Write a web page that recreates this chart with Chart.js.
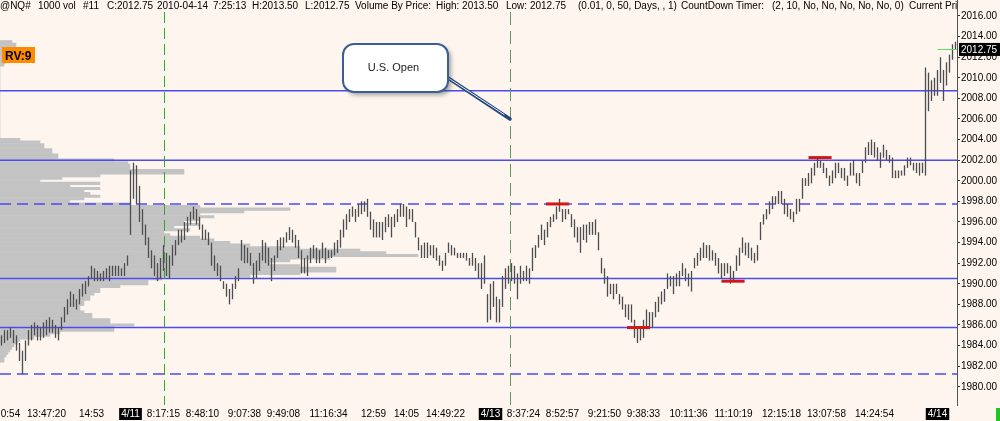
<!DOCTYPE html>
<html>
<head>
<meta charset="utf-8">
<script src="https://cdn.jsdelivr.net/npm/chart.js@4.4.1/dist/chart.umd.min.js"></script>
<style>
  html, body { margin: 0; padding: 0; background: #fdf5ee; }
  #wrap { width: 1000px; height: 421px; }
</style>
</head>
<body>
<div id="wrap"><canvas id="chart" width="1000" height="421"></canvas></div>
<script>
// ---- data ----
// 1000-volume bars, @NQ#, oldest to newest (one entry per bar)
const barHigh = [
  1985, 1985.5, 1985.5, 1985.75, 1985.5, 1985, 1984.25, 1983.5, 1984.5, 1985.5,
  1986, 1986.25, 1986, 1985.75, 1986.25, 1986.5, 1986.75, 1986.5, 1986, 1985.75,
  1986.75, 1987.75, 1988.5, 1989.25, 1989, 1988.5, 1989.5, 1990, 1990.25, 1990.75,
  1991.75, 1991.5, 1991.25, 1991, 1991.25, 1991.5, 1991.75, 1991.75, 1991.75, 1991.75,
  1991.5, 1992, 1992.75, 2001, 2001.75, 2001.5, 1999.5, 1997.25, 1995.75, 1994.5,
  1993.25, 1992.75, 1992, 1992.5, 1993.75, 1993, 1992.75, 1993.75, 1994.25, 1995.25,
  1995.25, 1996, 1996.5, 1997, 1997.5, 1997.25, 1996.5, 1995.75, 1995.25, 1995,
  1994, 1992.75, 1992, 1991.75, 1990.25, 1990, 1989.5, 1990, 1990.75, 1991.5,
  1994.25, 1993.75, 1993.5, 1993, 1992, 1992.25, 1993, 1994.25, 1994, 1993.5,
  1992.5, 1992.75, 1994.25, 1994.5, 1994.5, 1995, 1995.5, 1995.25, 1994.75, 1994.25,
  1993.25, 1992.5, 1992.75, 1993.5, 1993.75, 1993.5, 1993.25, 1994, 1993.5, 1993.25,
  1993.25, 1994, 1994.25, 1995.25, 1996.25, 1996.75, 1997.25, 1997.5, 1997.25, 1997.75,
  1998, 1998, 1998.25, 1997, 1996.25, 1996, 1996, 1996, 1996.5, 1996.75,
  1996.5, 1996.75, 1997.25, 1997.75, 1997.75, 1997.5, 1997.25, 1997.25, 1996, 1994.5,
  1993.75, 1994, 1994, 1993.75, 1993.75, 1993.5, 1992.75, 1992.25, 1993, 1994,
  1993.75, 1993.5, 1993, 1993, 1993, 1993, 1992.5, 1993, 1992.5, 1992,
  1992, 1992.75, 1989, 1990, 1990.25, 1988.75, 1988.5, 1990.75, 1991.5, 1991.75,
  1992, 1991.75, 1991, 1991.75, 1991.25, 1991.75, 1991.5, 1993.5, 1993.75, 1994.75,
  1995.75, 1995.25, 1996, 1996.5, 1996.75, 1997.5, 1998.25, 1997.25, 1997.25, 1997.25,
  1996.75, 1996.25, 1995.5, 1995.5, 1995.75, 1995.75, 1996, 1996, 1996.25, 1995,
  1992.5, 1991.5, 1990.75, 1990, 1990, 1990, 1989, 1988.75, 1988, 1988,
  1988, 1986.5, 1985.75, 1985.75, 1986.5, 1987.5, 1987.25, 1987.25, 1988.25, 1988.75,
  1989.25, 1989.5, 1991, 1990.75, 1990.75, 1991, 1991.25, 1992, 1991.5, 1991,
  1991.25, 1992.5, 1993, 1993.5, 1994, 1993.75, 1993.75, 1993.25, 1993, 1992.5,
  1992, 1992, 1992, 1991.75, 1991.25, 1992.75, 1993.5, 1994.5, 1994, 1994,
  1993.5, 1993, 1993.75, 1996, 1996.75, 1997.25, 1998, 1998.5, 1998.5, 1999,
  1999, 1998.25, 1997.75, 1997.25, 1997, 1998.25, 1998.25, 2000.25, 2000.25, 2000.75,
  2001.25, 2001.75, 2002.25, 2002, 2001.75, 2001.25, 2000.5, 2001, 2001.75, 2001.75,
  2001.25, 2001.25, 2000.5, 2001.75, 2002, 2000.75, 2000.75, 2002, 2003.25, 2003.75,
  2004, 2003.75, 2003.25, 2002.75, 2003.5, 2003, 2002.5, 2002.25, 2001, 2001,
  2001, 2001.5, 2002.25, 2002.25, 2001.75, 2001.75, 2001.75, 2001.75, 2011, 2010.5,
  2009.75, 2010, 2010.75, 2012, 2010.75, 2011.5, 2012.25, 2013.25, 2013.5
];
const barLow = [
  1984, 1984.25, 1984.5, 1984.75, 1984.25, 1983.5, 1982.5, 1981.25, 1982.5, 1984,
  1984.5, 1985, 1984.5, 1984.5, 1984.75, 1985, 1985.25, 1985.25, 1984.75, 1984.5,
  1985.5, 1986.25, 1987, 1987.75, 1987.75, 1987.5, 1988, 1988.75, 1989, 1989.75,
  1990.5, 1990.25, 1990.25, 1990.25, 1990.25, 1990.5, 1990.25, 1990.75, 1990.75, 1990.75,
  1990.75, 1990.75, 1991.75, 1994.75, 1998.25, 1997.75, 1996, 1994.75, 1993.75, 1992.5,
  1991.5, 1990.75, 1990.25, 1990.5, 1991.25, 1990.75, 1990.5, 1991.75, 1992.75, 1993.75,
  1994, 1994.25, 1995, 1995.75, 1996.25, 1995.75, 1995.25, 1994.25, 1994.25, 1993.75,
  1991.75, 1991.25, 1990.75, 1990.25, 1989.5, 1988.75, 1988, 1988.5, 1989.5, 1990.25,
  1992.25, 1992, 1992, 1991.75, 1990, 1990.5, 1991.25, 1992.25, 1992, 1991.75,
  1990.25, 1991.25, 1992.5, 1993.25, 1993.5, 1994, 1994.25, 1994, 1993.5, 1992.5,
  1991, 1991, 1990.75, 1992, 1992.5, 1992, 1992, 1992.5, 1992, 1992.5,
  1992.5, 1992.75, 1993, 1993.5, 1994.5, 1995.25, 1996, 1996.5, 1996, 1996.5,
  1996.75, 1997, 1996.5, 1995.25, 1994.5, 1994.5, 1994.5, 1994.25, 1995, 1995.5,
  1994.5, 1995.5, 1996, 1996.5, 1996.5, 1995.5, 1996.25, 1996, 1994.5, 1993.25,
  1992.5, 1992.5, 1992.5, 1992.75, 1992.5, 1992.25, 1991.75, 1991.25, 1991.75, 1993,
  1992.75, 1992.75, 1992.5, 1992.5, 1992.5, 1992.25, 1991.75, 1991.75, 1991.25, 1990.5,
  1989.5, 1990, 1986.25, 1986.5, 1987.75, 1986.25, 1986.25, 1987.75, 1989.5, 1990,
  1990.25, 1990, 1988.5, 1990, 1990.25, 1990.25, 1990, 1991.25, 1992.5, 1993.5,
  1994.25, 1993.75, 1994.5, 1995.5, 1996, 1996.25, 1997, 1996, 1996.25, 1996.75,
  1995.5, 1994.5, 1994, 1993, 1994.25, 1994, 1994.75, 1994.75, 1994.75, 1993.25,
  1991, 1990, 1988.75, 1989, 1988.5, 1989, 1988, 1987.5, 1986.75, 1986.5,
  1986.25, 1984.75, 1984.25, 1984.5, 1984.75, 1985.75, 1985.75, 1985.75, 1986.75, 1987.25,
  1988, 1988.25, 1989.5, 1989.75, 1989, 1989.75, 1989.75, 1990.75, 1990.25, 1989.75,
  1989.25, 1991.5, 1991.75, 1992.25, 1992.5, 1992.5, 1992.25, 1992.25, 1991.75, 1991,
  1990.5, 1990.75, 1991, 1990, 1990.25, 1991.25, 1991.75, 1993, 1992.75, 1992.5,
  1992.25, 1992, 1992.25, 1994.25, 1995.75, 1996.25, 1996.75, 1997.25, 1997.75, 1997.75,
  1997.75, 1996.75, 1996.5, 1996.25, 1996, 1996.75, 1997, 1998.25, 1999.5, 1999.5,
  1999.75, 2000.5, 2001.25, 2001.25, 2000.75, 2000.25, 1999.5, 1999.75, 2000.25, 2000.75,
  2000.25, 2000, 1999.5, 2000.5, 2000.5, 1999.75, 1999.5, 2000.75, 2001.75, 2002.5,
  2002.5, 2002.25, 2002, 2001.25, 2002.25, 2002, 2001.75, 2000.25, 2000.25, 2000.25,
  2000.5, 2000.5, 2001.25, 2001.5, 2001, 2000.75, 2000.5, 2000.75, 2000.5, 2006.75,
  2007.75, 2008.25, 2008.25, 2009.5, 2007.75, 2009.25, 2010.5, 2011.75, 2012.75
];

// Volume By Price: one value per 0.25 level, from the top level down
const vpTop = 2013.5;
const vpVolume = [
  6, 8, 8, 8, 6, 5, 5, 4, 3, 2,
  0, 0, 0, 0, 0, 0, 0, 0, 0, 0, 0, 0, 0, 0, 0, 0, 0, 0, 0, 0, 0, 0, 0, 0, 0, 0, 0, 0,
  10, 20, 22, 22, 26, 26, 29, 29, 57, 64, 65, 65, 92, 92, 50, 31, 20,
  50, 35, 50, 42, 45, 50, 42, 35, 65, 100, 145, 122, 100, 107, 100, 92,
  100, 87, 95, 82, 85, 100, 107, 115, 125, 150, 180, 193, 209, 165, 145, 135,
  150, 168, 168, 150, 125, 81, 74, 74, 60, 50, 50, 47, 45, 45, 42, 42,
  40, 40, 42, 46, 46, 55, 55, 67, 57, 57, 30, 25, 17, 10, 9, 7,
  6, 5, 4, 3, 2, 2
];

// price axis
const yTicks = [1980, 1982, 1984, 1986, 1988, 1990, 1992, 1994, 1996, 1998,
  2000, 2002, 2004, 2006, 2008, 2010, 2012, 2014, 2016];

// time axis: bar index -> label
const timeTickBars = [3, 15, 30, 43, 54, 67, 81, 94, 109, 124, 135, 148,
  163, 174, 187, 201, 214, 229, 244, 260, 275, 291, 312];
const timeTickLabels = ['0:54', '13:47:20', '14:53', '4/11', '8:17:15', '8:48:10',
  '9:07:38', '9:49:08', '11:16:34', '12:59', '14:05', '14:49:22', '4/13', '8:37:24',
  '8:52:57', '9:21:50', '9:38:33', '10:11:36', '11:10:19', '12:15:18', '13:07:58',
  '14:24:54', '4/14'];
const dateLabels = ['4/11', '4/13', '4/14'];

// drawn levels and markers
const levelSolid = [2008.75, 2002, 1990.5, 1985.75];
const levelDashed = [1997.75, 1981.25];
const redMarks = [
  { price: 1997.75, from: 181.5, to: 189.2 },
  { price: 1985.75, from: 208.5, to: 216.2 },
  { price: 1990.25, from: 240, to: 247.7 },
  { price: 2002.25, from: 269, to: 276.7 }
];
const lastPrice = 2012.75;
const openLineBar = 54;      // 8:17:15 green dashed line
const usOpenBar = 169.5;     // U.S. Open marker
const usOpenPrice = 2006;

const headerParts = [
  ['@NQ#', 0], ['1000 vol', 38], ['#11', 83], ['C:2012.75', 107], ['2010-04-14', 157],
  ['7:25:13', 213], ['H:2013.50', 252], ['L:2012.75', 305], ['Volume By Price:', 355],
  ['High: 2013.50', 436], ['Low: 2012.75', 506], ['(0.01, 0, 50, Days, , 1)', 578],
  ['CountDown Timer:', 681], ['(2, 10, No, No, No, No, No, 0)', 772], ['Current Price', 909]
];

const FONT = '"Liberation Sans", Arial, sans-serif';
const bgColor = '#fdf5ee';
const blue = '#4b4bf2';
const plotRight = 957;
const plotBottom = 405;

function roundRect(ctx, x, y, w, h, r) {
  ctx.beginPath();
  ctx.moveTo(x + r, y);
  ctx.arcTo(x + w, y, x + w, y + h, r);
  ctx.arcTo(x + w, y + h, x, y + h, r);
  ctx.arcTo(x, y + h, x, y, r);
  ctx.arcTo(x, y, x + w, y, r);
  ctx.closePath();
}

// the plot runs edge to edge like the original: pin the area and the axes
const pinArea = {
  id: 'pinArea',
  afterLayout(chart) {
    const a = chart.chartArea;
    a.left = 0; a.top = 0; a.right = plotRight; a.bottom = plotBottom;
    a.width = plotRight; a.height = plotBottom;
    const { x, xv, y } = chart.scales;
    [x, xv].forEach(s => { s.left = 0; s.right = plotRight; s.width = plotRight; });
    x.top = plotBottom; x.bottom = chart.height; x.height = chart.height - plotBottom;
    y.left = plotRight; y.right = chart.width; y.width = chart.width - plotRight;
    y.top = 0; y.bottom = plotBottom; y.height = plotBottom;
    [x, xv, y].forEach(s => s.configure());
  }
};

const overlay = {
  id: 'nqOverlay',
  beforeDraw(chart) {
    const ctx = chart.ctx;
    ctx.save();
    ctx.fillStyle = bgColor;
    ctx.fillRect(0, 0, chart.width, chart.height);
    ctx.restore();
  },
  // level lines sit on top of the volume profile, under the price bars
  afterDatasetDraw(chart, args) {
    if (args.index !== 0) return;
    const { ctx, chartArea: a, scales: { y } } = chart;
    ctx.save();
    ctx.beginPath();
    ctx.rect(a.left, a.top, a.right - a.left, a.bottom - a.top);
    ctx.clip();
    ctx.strokeStyle = blue;
    ctx.lineWidth = 1.5;
    levelSolid.forEach(p => {
      const py = y.getPixelForValue(p);
      ctx.beginPath(); ctx.moveTo(a.left, py); ctx.lineTo(a.right, py); ctx.stroke();
    });
    ctx.setLineDash([11, 6]);
    levelDashed.forEach(p => {
      const py = y.getPixelForValue(p);
      ctx.beginPath(); ctx.moveTo(a.left, py); ctx.lineTo(a.right, py); ctx.stroke();
    });
    ctx.restore();
  },
  afterDatasetsDraw(chart) {
    const { ctx, chartArea: a, scales: { x, y } } = chart;
    ctx.save();
    ctx.beginPath();
    ctx.rect(a.left, a.top, a.right - a.left, a.bottom - a.top);
    ctx.clip();

    // session lines
    ctx.lineWidth = 1;
    ctx.setLineDash([11, 5]);
    ctx.strokeStyle = '#2fa82f';
    let px = Math.round(x.getPixelForValue(openLineBar)) + 0.5;
    ctx.beginPath(); ctx.moveTo(px, 12); ctx.lineTo(px, a.bottom); ctx.stroke();
    ctx.setLineDash([13, 6]);
    ctx.strokeStyle = '#5f955f';
    px = Math.round(x.getPixelForValue(usOpenBar)) + 0.5;
    ctx.beginPath(); ctx.moveTo(px, 12); ctx.lineTo(px, a.bottom); ctx.stroke();
    ctx.setLineDash([]);

    // red swing markers
    ctx.strokeStyle = '#d01818';
    ctx.lineWidth = 3;
    redMarks.forEach(m => {
      const py = y.getPixelForValue(m.price);
      ctx.beginPath();
      ctx.moveTo(x.getPixelForValue(m.from), py);
      ctx.lineTo(x.getPixelForValue(m.to), py);
      ctx.stroke();
    });

    // current price line
    ctx.strokeStyle = '#5ee05e';
    ctx.lineWidth = 1;
    const lp = Math.round(y.getPixelForValue(lastPrice)) + 0.5;
    ctx.beginPath();
    ctx.moveTo(x.getPixelForValue(312), lp);
    ctx.lineTo(a.right, lp);
    ctx.stroke();

    // "U.S. Open" callout
    const tipX = x.getPixelForValue(usOpenBar);
    const tipY = y.getPixelForValue(usOpenPrice);
    const bx = tipX - 167, by = tipY - 75, bw = 105, bh = 48;
    ctx.lineCap = 'round';
    ctx.strokeStyle = '#24477a';
    ctx.lineWidth = 3.5;
    ctx.beginPath(); ctx.moveTo(bx + bw - 6, by + 30); ctx.lineTo(tipX, tipY); ctx.stroke();
    ctx.strokeStyle = '#e6eef8';
    ctx.lineWidth = 1;
    ctx.beginPath(); ctx.moveTo(bx + bw - 6, by + 30); ctx.lineTo(tipX - 6, tipY - 4.5); ctx.stroke();
    ctx.shadowColor = 'rgba(60,60,60,0.45)';
    ctx.shadowBlur = 4;
    ctx.shadowOffsetX = 3;
    ctx.shadowOffsetY = 3;
    roundRect(ctx, bx, by, bw, bh, 11);
    ctx.fillStyle = '#ffffff';
    ctx.fill();
    ctx.shadowColor = 'transparent';
    ctx.strokeStyle = '#3a5f96';
    ctx.lineWidth = 2;
    ctx.stroke();
    ctx.fillStyle = '#222';
    ctx.font = '11px ' + FONT;
    ctx.textAlign = 'center';
    ctx.textBaseline = 'middle';
    ctx.fillText('U.S. Open', bx + bw / 2 - 2, by + 24);

    // RV label
    ctx.fillStyle = '#ff8a00';
    ctx.fillRect(2, 47, 33, 16);
    ctx.fillStyle = '#000';
    ctx.font = 'bold 12px ' + FONT;
    ctx.textAlign = 'left';
    ctx.textBaseline = 'alphabetic';
    ctx.fillText('RV:9', 5, 60);
    ctx.restore();
  },
  afterDraw(chart) {
    const { ctx, chartArea: a, scales: { y } } = chart;
    ctx.save();
    // header line, clipped at the price axis
    ctx.beginPath();
    ctx.rect(0, 0, a.right, 20);
    ctx.clip();
    ctx.fillStyle = '#000';
    ctx.font = '10px ' + FONT;
    ctx.textBaseline = 'alphabetic';
    headerParts.forEach(([t, hx]) => ctx.fillText(t, hx, 9));
    ctx.restore();

    // last price box on the axis
    ctx.save();
    const py = y.getPixelForValue(lastPrice);
    ctx.fillStyle = '#000';
    ctx.fillRect(a.right + 2, py - 6.5, 41, 13);
    ctx.fillStyle = '#fff';
    ctx.font = '10px ' + FONT;
    ctx.textBaseline = 'middle';
    ctx.fillText(lastPrice.toFixed(2), a.right + 4, py + 0.5);
    // little status box, bottom right
    ctx.fillStyle = '#22c322';
    ctx.fillRect(996, 408, 4, 13);
    ctx.restore();
  }
};

const priceBars = barHigh.map((h, i) => ({ x: i, y: [barLow[i], h] }));
const profile = vpVolume.map((v, i) => ({ x: v, y: vpTop - i * 0.25 }));

new Chart(document.getElementById('chart'), {
  data: {
    datasets: [
      {
        type: 'bar',
        indexAxis: 'y',
        data: profile,
        xAxisID: 'xv',
        yAxisID: 'y',
        backgroundColor: '#c3c3c3',
        borderWidth: 0,
        barThickness: 2.6,
        inflateAmount: 0.25,
        grouped: false,
        order: 2
      },
      {
        type: 'bar',
        data: priceBars,
        xAxisID: 'x',
        yAxisID: 'y',
        backgroundColor: '#4d4d4d',
        borderWidth: 0,
        barThickness: 1.3,
        inflateAmount: 0,
        grouped: false,
        order: 1
      }
    ]
  },
  options: {
    responsive: false,
    animation: false,
    events: [],
    layout: { padding: 0 },
    plugins: { legend: { display: false }, tooltip: { enabled: false } },
    scales: {
      x: {
        type: 'linear',
        position: 'bottom',
        offset: false,
        min: -0.5,
        max: 318.5,
        grid: { display: false, drawTicks: false, offset: false },
        border: { display: false },
        afterBuildTicks: s => { s.ticks = timeTickBars.map(v => ({ value: v })); },
        afterFit: s => { s.height = 16; },
        ticks: {
          autoSkip: false,
          maxRotation: 0,
          minRotation: 0,
          padding: 3,
          font: { family: FONT, size: 10 },
          callback: (v, i) => timeTickLabels[i],
          color: c => dateLabels.includes(timeTickLabels[c.index]) ? '#fff' : '#000',
          showLabelBackdrop: c => dateLabels.includes(timeTickLabels[c.index]),
          backdropColor: '#000',
          backdropPadding: { left: 2, right: 2, top: 0, bottom: 0 }
        }
      },
      xv: {
        type: 'linear',
        axis: 'x',
        position: 'bottom',
        display: false,
        offset: false,
        min: 0,
        max: 478.5
      },
      y: {
        type: 'linear',
        position: 'right',
        offset: false,
        min: 1978.23,
        max: 2017.55,
        grid: { drawOnChartArea: false, drawTicks: true, tickLength: 3, color: '#333', offset: false },
        border: { display: true, color: '#555', width: 1 },
        afterBuildTicks: s => { s.ticks = yTicks.map(v => ({ value: v })); },
        afterFit: s => { s.width = 43; },
        ticks: {
          padding: 1,
          color: '#000',
          font: { family: FONT, size: 10 },
          callback: v => v.toFixed(2)
        }
      }
    }
  },
  plugins: [pinArea, overlay]
});
</script>
</body>
</html>
